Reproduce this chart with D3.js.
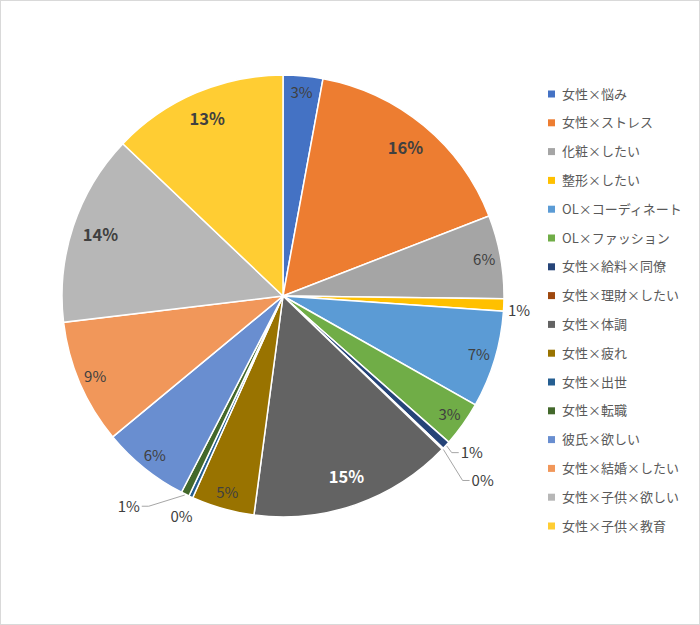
<!DOCTYPE html>
<html>
<head>
<meta charset="utf-8">
<script src="https://cdn.jsdelivr.net/npm/d3@7"></script>
<style>
  body { margin: 0; background: #fff; }
  svg { display: block; font-family: "Noto Sans CJK JP", "Noto Sans", sans-serif; }
</style>
</head>
<body>
<svg id="chart" width="700" height="625"></svg>
<script>
// categories and shares (percent of total)
let categories = [
  "女性×悩み", "女性×ストレス", "化粧×したい", "整形×したい",
  "OL×コーディネート", "OL×ファッション", "女性×給料×同僚", "女性×理財×したい",
  "女性×体調", "女性×疲れ", "女性×出世", "女性×転職",
  "彼氏×欲しい", "女性×結婚×したい", "女性×子供×欲しい", "女性×子供×教育"
]
let values = [2.9, 16.2, 6.1, 0.9, 7.1, 3.3, 0.6, 0.1, 14.9, 4.6, 0.3, 0.6, 6.4, 9.1, 14.0, 12.9]

let colors = [
  "#4472C4", "#ED7D31", "#A5A5A5", "#FFC000", "#5B9BD5", "#70AD47", "#264478", "#9E480E",
  "#636363", "#997300", "#255E91", "#43682B", "#698ED0", "#F1975A", "#B7B7B7", "#FFCD33"
]

// labels that sit outside the pie: radius factor, angle nudge (deg), leader line
let outside = {
  3: { k: 1.07, da: 1.2, leader: false },
  6: { k: 1.11, da: -2.8, leader: true },
  7: { k: 1.23, da: -1.0, leader: true },
  10: { k: 1.10, da: 0, leader: false },
  11: { k: 1.18, da: 10, leader: true }
}

let width = 700
let height = 625
let radius = 221
let cx = 283
let cy = 296

let svg = d3.select("#chart")

svg.append("rect")
    .attr("x", 0.5).attr("y", 0.5)
    .attr("width", width - 1).attr("height", height - 1)
    .attr("fill", "#fff")
    .attr("stroke", "#D9D9D9")

let data = categories.map(function(c, i) { return { name: c, value: values[i], i: i } })
let total = d3.sum(values)

let pie = d3.pie().sort(null).value(function(d) { return d.value })
let arc = d3.arc().innerRadius(0).outerRadius(radius)

let arcs = pie(data)

let g = svg.append("g")
    .attr("transform", "translate(" + cx + "," + cy + ")")

g.selectAll("path.slice")
    .data(arcs)
  .enter().append("path")
    .attr("class", "slice")
    .attr("d", arc)
    .attr("fill", function(d) { return colors[d.data.i] })
    .attr("stroke", "#fff")
    .attr("stroke-width", 1.5)

function pct(d) { return Math.round(d.data.value / total * 100) + "%" }

function polar(a, r) { return [Math.sin(a) * r, -Math.cos(a) * r] }

arcs.forEach(function(d) {
  let i = d.data.i
  let mid = (d.startAngle + d.endAngle) / 2
  let big = d.data.value >= 10
  let o = outside[i]
  let p
  if (o) {
    p = polar(mid + o.da * Math.PI / 180, radius * o.k)
  } else {
    p = polar(mid, big ? radius * 0.87 : radius * 0.925)
  }
  let t = g.append("text")
      .attr("x", p[0])
      .attr("y", p[1])
      .attr("dy", "0.36em")
      .attr("text-anchor", "middle")
      .attr("font-size", big ? 16.5 : 15)
      .attr("font-weight", big ? "bold" : "normal")
      .attr("fill", i === 8 ? "#fff" : "#404040")
      .text(pct(d))

  if (o && o.leader) {
    let w = t.node().getComputedTextLength()
    let side = p[0] > 0 ? 1 : -1
    let start = polar(mid, radius + 1)
    let endX = p[0] - side * (w / 2 + 2)
    let pts = [start, [endX - side * 7, p[1]], [endX, p[1]]]
    g.append("path")
        .attr("d", d3.line()(pts))
        .attr("fill", "none")
        .attr("stroke", "#A6A6A6")
        .attr("stroke-width", 1)
  }
})

// legend
let legend = svg.append("g")
    .attr("transform", "translate(548,94)")

let ly = d3.scaleLinear().domain([0, categories.length - 1]).range([0, 432])

let item = legend.selectAll("g")
    .data(categories)
  .enter().append("g")
    .attr("transform", function(d, i) { return "translate(0," + ly(i) + ")" })

item.append("rect")
    .attr("x", 0).attr("y", -3.5)
    .attr("width", 7).attr("height", 7)
    .attr("fill", function(d, i) { return colors[i] })

item.append("text")
    .attr("x", 14)
    .attr("dy", "0.36em")
    .attr("font-size", 13)
    .attr("fill", "#595959")
    .text(function(d) { return d })
</script>
</body>
</html>
